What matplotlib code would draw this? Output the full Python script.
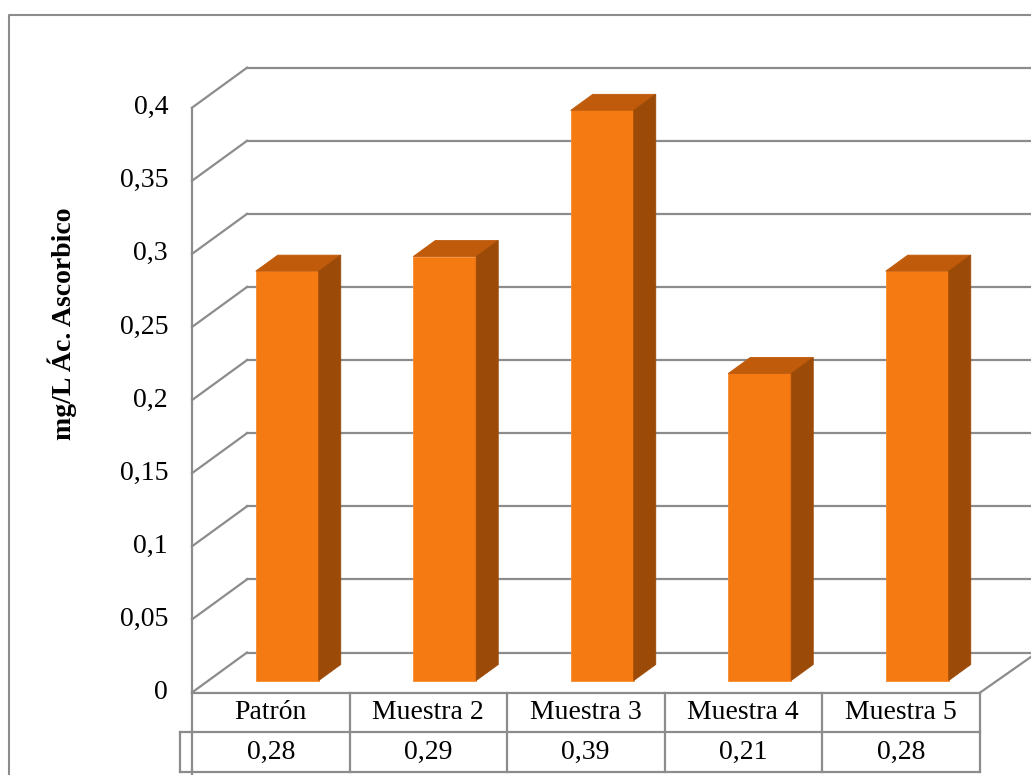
import matplotlib.pyplot as plt
from matplotlib.patches import Polygon, Rectangle
from matplotlib.lines import Line2D

plt.rcParams['font.family'] = ['Liberation Serif', 'DejaVu Serif']

# -----------------------------
# Data
# -----------------------------
categories = ["Patrón", "Muestra 2", "Muestra 3", "Muestra 4", "Muestra 5"]
values = [0.28, 0.29, 0.39, 0.21, 0.28]
value_labels = ["0,28", "0,29", "0,39", "0,21", "0,28"]
yticks = [0, 0.05, 0.1, 0.15, 0.2, 0.25, 0.3, 0.35, 0.4]
ytick_labels = ["0", "0,05", "0,1", "0,15", "0,2", "0,25", "0,3", "0,35", "0,4"]
ylabel = "mg/L Ác. Ascorbico"

# -----------------------------
# Geometry (pixel scales of the fake 3D box)
# -----------------------------
W, H = 1031, 775
PX_CAT = 157.5          # pixels per category
PX_VAL = 1462.0         # pixels per unit value
LEFT_PX = 192           # front-left corner x
ZERO_PX = 692.5         # front zero y
DX = 55 / PX_CAT        # wall depth (x, in category units)
DY = 40 / PX_VAL        # wall depth (y, in value units)
BAR_W = 0.40
D0, DD = 0.30, 0.40     # bar depth start / bar depth

GRID = "#8c8c8c"
FRONT, TOP, SIDE = "#f57a12", "#c05b0b", "#9c4a07"


def py(p):
    """pixel height -> value units"""
    return p / PX_VAL


fig = plt.figure(figsize=(W / 100, H / 100), dpi=100, facecolor="white")
ax = fig.add_axes([0, 0, 1, 1])
x_left = -0.5
xmin = x_left - LEFT_PX / PX_CAT
ax.set_xlim(xmin, xmin + W / PX_CAT)
ax.set_ylim(-py(H - ZERO_PX), py(ZERO_PX))
ax.axis("off")

# outer chart frame (left + top only visible)
fig.add_artist(Line2D([9 / W, 9 / W, 1], [0, 1 - 15 / H, 1 - 15 / H],
                      transform=fig.transFigure, color="#8c8c8c", lw=1.5))

x_right = ax.get_xlim()[1] + 0.5
n = len(categories)
x_end = x_left + n

# -----------------------------
# Walls and gridlines
# -----------------------------
for t in yticks:
    ax.plot([x_left, x_left + DX], [t, t + DY], color=GRID, lw=1.6, zorder=1)
    ax.plot([x_left + DX, x_right], [t + DY, t + DY], color=GRID, lw=1.6, zorder=1)

ax.plot([x_left, x_left], [max(yticks), ax.get_ylim()[0]], color=GRID, lw=1.6, zorder=1)
ax.plot([x_end, x_end + DX * 1.05], [0 - py(0.5), DY], color=GRID, lw=1.6, zorder=1)

# tick labels
for t, lab in zip(yticks, ytick_labels):
    ax.text(xmin + 168 / PX_CAT, t, lab, ha="right", va="center", fontsize=20)

ax.text(xmin + 62 / PX_CAT, py(ZERO_PX - 324), ylabel, rotation=90,
        ha="center", va="center", fontsize=20, fontweight="bold")

# -----------------------------
# Bars
# -----------------------------
for i, v in enumerate(values):
    x0 = i + D0 * DX - BAR_W / 2
    b = D0 * DY
    top = b + v
    ox, oy = DD * DX, DD * DY
    ax.add_patch(Rectangle((x0, b), BAR_W, v, facecolor=FRONT,
                           edgecolor="#f58a30", lw=0.6, zorder=3))
    ax.add_patch(Polygon([(x0, top), (x0 + BAR_W, top),
                          (x0 + BAR_W + ox, top + oy), (x0 + ox, top + oy)],
                         closed=True, facecolor=TOP, edgecolor=TOP, lw=0.6, zorder=3))
    ax.add_patch(Polygon([(x0 + BAR_W, b), (x0 + BAR_W + ox, b + oy),
                          (x0 + BAR_W + ox, top + oy), (x0 + BAR_W, top)],
                         closed=True, facecolor=SIDE, edgecolor=SIDE, lw=0.6, zorder=3))

# -----------------------------
# Data table
# -----------------------------
row0 = -py(693 - ZERO_PX)
row1 = -py(732 - ZERO_PX)
row2 = -py(772 - ZERO_PX)
key_left = x_left - 12 / PX_CAT

ax.plot([x_left, x_end], [row0, row0], color=GRID, lw=1.6, zorder=2)
ax.plot([key_left, x_end], [row1, row1], color=GRID, lw=1.6, zorder=2)
ax.plot([key_left, x_end], [row2, row2], color=GRID, lw=1.6, zorder=2)
ax.plot([key_left, key_left], [row1, row2], color=GRID, lw=1.6, zorder=2)
for k in range(1, n + 1):
    ax.plot([x_left + k, x_left + k], [row0, row2], color=GRID, lw=1.6, zorder=2)

for i, (c, lab) in enumerate(zip(categories, value_labels)):
    ax.text(i, (row0 + row1) / 2, c, ha="center", va="center", fontsize=20)
    ax.text(i, (row1 + row2) / 2, lab, ha="center", va="center", fontsize=20)

fig.savefig("out.png", dpi=100, facecolor="white")
